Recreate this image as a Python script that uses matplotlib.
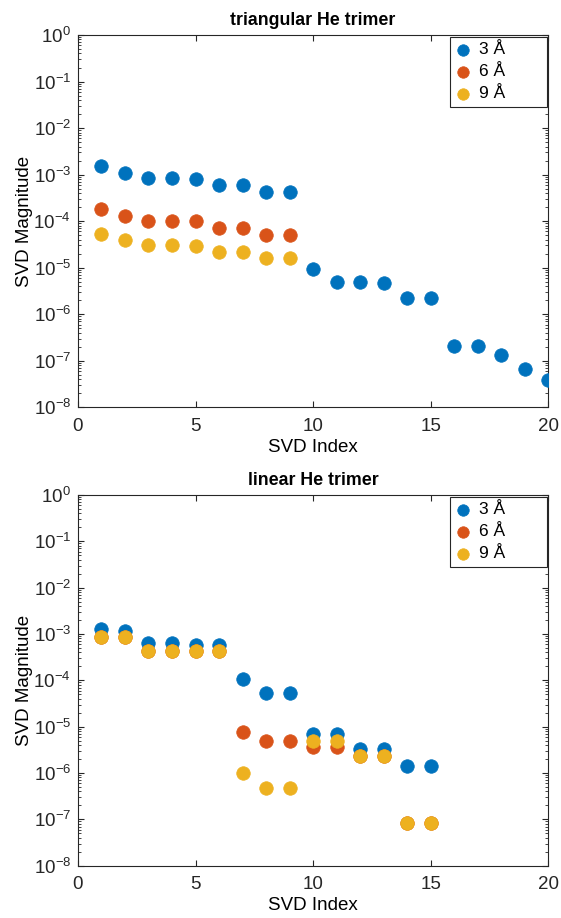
import matplotlib
matplotlib.use("Agg")
import matplotlib.pyplot as plt
import numpy as np
from matplotlib import rcParams
from matplotlib.ticker import LogLocator, NullFormatter

rcParams['font.family'] = ['Liberation Sans', 'DejaVu Sans']
rcParams['mathtext.fontset'] = 'custom'
rcParams['mathtext.rm'] = 'Liberation Sans'
rcParams['mathtext.it'] = 'Liberation Sans'
rcParams['mathtext.default'] = 'regular'
rcParams['axes.unicode_minus'] = False

# series labels and MATLAB default colours
labels = ['3 Å', '6 Å', '9 Å']
colors = ['#0072BD', '#D95319', '#EDB120']

## triangular trimer
tri_idx_3 = np.arange(1, 21)
tri_3 = [1.5e-3, 1.1e-3, 8.5e-4, 8.3e-4, 8.1e-4, 6.1e-4, 6.1e-4, 4.3e-4, 4.3e-4,
         9.6e-6, 5.0e-6, 5.0e-6, 4.6e-6, 2.2e-6, 2.2e-6,
         2.1e-7, 2.1e-7, 1.3e-7, 6.6e-8, 3.9e-8]
tri_idx_6 = np.arange(1, 10)
tri_6 = [1.8e-4, 1.28e-4, 1.03e-4, 1.0e-4, 1.0e-4, 7.3e-5, 7.3e-5, 5.1e-5, 5.1e-5]
tri_idx_9 = np.arange(1, 10)
tri_9 = [5.3e-5, 3.9e-5, 3.0e-5, 3.0e-5, 2.9e-5, 2.16e-5, 2.16e-5, 1.58e-5, 1.58e-5]

## linear trimer
lin_idx = np.arange(1, 16)
lin_3 = [1.28e-3, 1.14e-3, 6.4e-4, 6.4e-4, 5.7e-4, 5.7e-4, 1.07e-4, 5.2e-5, 5.2e-5,
         7.0e-6, 7.0e-6, 3.3e-6, 3.3e-6, 1.44e-6, 1.44e-6]
lin_6 = [8.5e-4, 8.5e-4, 4.2e-4, 4.2e-4, 4.2e-4, 4.2e-4, 7.8e-6, 4.9e-6, 4.9e-6,
         3.7e-6, 3.7e-6, 2.3e-6, 2.3e-6, 8.5e-8, 8.5e-8]
lin_9 = [8.5e-4, 8.5e-4, 4.2e-4, 4.2e-4, 4.2e-4, 4.2e-4, 1.0e-6, 4.8e-7, 4.8e-7,
         4.9e-6, 4.9e-6, 2.3e-6, 2.3e-6, 8.5e-8, 8.5e-8]

panels = [
    ('triangular He trimer', [(tri_idx_3, tri_3), (tri_idx_6, tri_6), (tri_idx_9, tri_9)]),
    ('linear He trimer', [(lin_idx, lin_3), (lin_idx, lin_6), (lin_idx, lin_9)]),
]

fig = plt.figure(figsize=(5.61, 9.18), dpi=100)
rects = [[0.139, 0.5563, 0.838, 0.4056], [0.139, 0.0570, 0.838, 0.4038]]

for rect, (title, series) in zip(rects, panels):
    ax = fig.add_axes(rect)
    for (x, y), c, lab in zip(series, colors, labels):
        ax.scatter(x, y, s=95, color=c, edgecolors=c, linewidths=0.5, label=lab, zorder=3)
    ax.set_yscale('log')
    ax.set_xlim(0, 20)
    ax.set_ylim(1e-8, 1)
    ax.set_xticks([0, 5, 10, 15, 20])
    ax.yaxis.set_major_locator(LogLocator(base=10, numticks=20))
    ax.yaxis.set_minor_locator(LogLocator(base=10, subs=np.arange(2, 10), numticks=20))
    ax.yaxis.set_minor_formatter(NullFormatter())
    ax.tick_params(which='both', direction='in', top=True, right=True, labelsize=13.5,
                   colors='#262626', labelcolor='#262626')
    ax.tick_params(axis='x', which='major', pad=7.5)
    ax.tick_params(axis='y', which='major', pad=5)
    ax.tick_params(which='major', length=4, width=0.8)
    ax.tick_params(which='minor', length=2, width=0.6)
    for sp in ax.spines.values():
        sp.set_color('#262626')
        sp.set_linewidth(0.8)
    ax.set_xlabel('SVD Index', fontsize=13.5, labelpad=3)
    ax.set_ylabel('SVD Magnitude', fontsize=13.5, labelpad=0)
    ax.set_title(title, fontsize=12.8, fontweight='bold', pad=7)
    leg = ax.legend(loc='upper right', bbox_to_anchor=(0.791, 0.80, 0.207, 0.195),
                    mode='expand', fontsize=12.5, frameon=True, fancybox=False,
                    handlelength=0.9, handletextpad=0.5, borderpad=0.3,
                    labelspacing=0.4, borderaxespad=0.0, markerscale=0.85)
    leg.get_frame().set_edgecolor('#262626')
    leg.get_frame().set_linewidth(0.8)
    leg.get_frame().set_alpha(1)

plt.savefig('out.png', dpi=100)
